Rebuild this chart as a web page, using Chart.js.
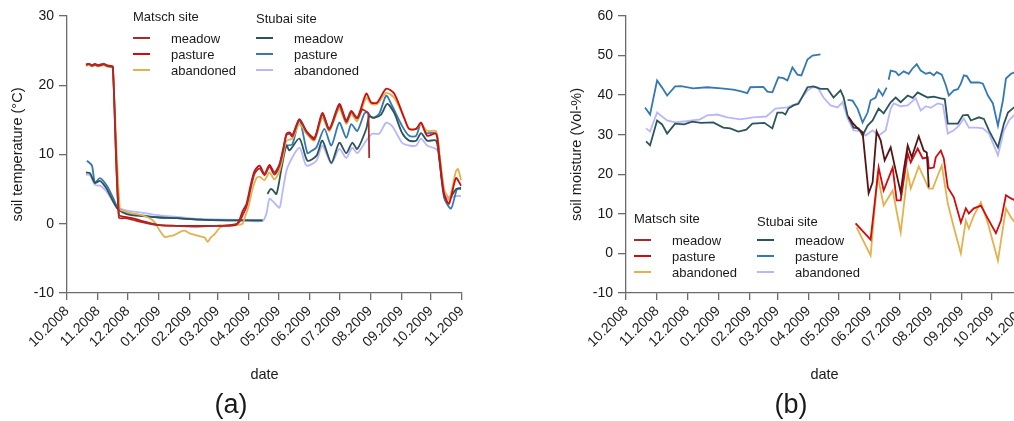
<!DOCTYPE html>
<html>
<head>
<meta charset="utf-8">
<script src="https://cdn.jsdelivr.net/npm/chart.js@4/dist/chart.umd.min.js"></script>
<style>
  html, body { margin: 0; padding: 0; background: #fff; width: 1014px; height: 421px; overflow: hidden; }
  canvas { position: absolute; top: 0; }
  #tempChart { left: 0; }
  #moistChart { left: 560px; }
</style>
</head>
<body>
<canvas id="tempChart" width="486" height="421"></canvas>
<canvas id="moistChart" width="482" height="421"></canvas>
<script>
// ---- axis labels -------------------------------------------------------
const monthLabels = ['10.2008', '11.2008', '12.2008', '01.2009', '02.2009', '03.2009', '04.2009',
                     '05.2009', '06.2009', '07.2009', '08.2009', '09.2009', '10.2009', '11.2009'];
const tempTicks = [-10, 0, 10, 20, 30];
const moistTicks = [-10, 0, 10, 20, 30, 40, 50, 60];

// days are counted from 1 October 2008
const startDate = Date.UTC(2008, 9, 1);
const monthDays = monthLabels.map(l => {
  const [m, y] = l.split('.');
  return (Date.UTC(+y, +m - 1, 1) - startDate) / 86400000;
});

// ---- soil temperature (°C) ---------------------------------------------
const tMatschMeadowDays = [19,22,25,28,31,34,37,40,44,46,52,58,65,73,83,93,110,130,150,163,170,173,176,180,184,188,193,198,203,208,213,217,220,223,226,233,240,248,256,263,273,280,285,291,296,300,302,303];
const tMatschMeadow = [22.9,23.1,22.8,23.0,22.8,22.9,23.0,22.8,22.7,22.6,0.9,0.8,0.6,0.3,0.0,-0.2,-0.3,-0.4,-0.3,-0.2,0.0,0.3,1.2,2.5,5.0,7.2,8.0,7.0,8.2,7.1,8.4,10.8,12.8,13.0,12.6,15.0,13.3,12.2,15.8,13.6,17.0,14.7,16.1,15.2,16.5,16.2,16.0,9.5];

const tMatschPastureDays = [19,22,25,28,31,34,37,40,44,46,52,58,65,73,83,93,110,130,150,163,170,173,176,180,184,188,193,198,203,208,213,217,220,223,226,233,240,248,256,263,273,280,285,291,300,305,311,320,328,338,343,350,355,361,370,373,378,383,390,395];
const tMatschPasture = [23.0,23.1,22.9,23.1,22.9,23.0,23.1,22.9,22.8,22.7,1.3,1.0,0.8,0.5,0.1,-0.2,-0.3,-0.3,-0.3,-0.3,-0.1,0.6,1.8,2.9,5.5,7.6,8.4,7.2,8.5,7.4,8.6,11.0,13.0,13.2,12.8,15.1,13.4,12.4,16.0,13.7,17.3,14.9,16.3,15.3,18.8,17.5,17.5,19.5,18.8,15.3,13.7,13.7,14.6,12.7,13.0,10.1,4.3,2.9,6.6,5.5];

const tMatschAbandonedDays = [19,22,25,28,31,34,37,40,44,46,53,58,65,73,83,88,93,98,103,108,113,118,123,128,133,138,141,144,148,153,160,170,176,178,182,186,190,193,198,203,208,213,217,220,226,233,240,248,256,263,273,280,285,291,300,305,311,320,328,338,343,350,355,361,370,373,378,383,390,392,395];
const tMatschAbandoned = [22.8,22.9,22.7,22.9,22.7,22.8,22.9,22.7,22.6,22.4,2.1,1.8,1.5,1.3,0.8,0.2,-1.0,-1.9,-1.8,-1.6,-1.2,-1.0,-1.4,-1.6,-1.8,-2.0,-2.6,-2.0,-1.5,-0.6,-0.2,-0.2,0.0,0.8,2.5,5.0,6.6,6.8,6.3,7.4,6.4,7.6,10.0,12.0,12.3,14.4,13.0,12.0,15.3,13.4,16.6,14.4,15.8,14.8,18.2,17.3,17.3,18.9,18.2,15.3,13.7,13.7,14.4,13.4,13.4,10.6,5.0,3.5,7.6,7.9,6.3];

const tStubaiMeadowDays = [19,23,28,33,36,40,46,51,60,75,93,110,133,160,180,196,198,201,204,206,210,215,220,223,233,241,250,256,265,273,280,286,291,300,303,308,315,321,328,336,343,350,355,361,370,373,378,383,390,395];
const tStubaiMeadow = [7.4,7.3,5.9,6.2,5.8,5.0,3.3,2.1,1.4,1.1,0.9,0.8,0.6,0.5,0.5,0.5,null,4.3,5.0,4.9,4.3,8.0,11.3,10.6,12.3,9.1,9.8,12.0,8.8,11.7,10.2,11.7,10.8,13.7,15.5,15.3,15.8,17.3,16.0,13.1,12.0,12.0,13.1,12.0,12.0,9.5,4.3,3.6,5.0,5.2];

const tStubaiPastureDays = [20,25,28,33,40,46,51,60,75,93,110,133,160,180,196,205,220,226,233,241,245,250,258,265,273,280,285,291,298,301,306,313,320,326,336,343,350,355,360,370,373,378,385,391,395];
const tStubaiPasture = [9.1,8.4,5.9,6.6,5.5,3.8,2.3,1.6,1.2,0.9,0.8,0.6,0.5,0.5,0.5,null,11.3,11.5,15.0,10.2,10.5,11.0,13.7,11.3,14.6,12.4,14.4,13.4,15.9,16.1,15.3,15.9,18.5,17.0,14.1,12.7,12.7,14.6,13.1,13.1,10.1,3.8,2.2,5.0,5.0];

const tStubaiAbandonedDays = [19,23,28,33,36,40,46,51,55,60,75,93,110,133,160,180,196,200,203,208,213,216,221,233,240,250,256,265,273,280,286,291,300,306,313,320,326,336,343,350,355,361,370,373,378,383,390,395];
const tStubaiAbandoned = [7.1,7.0,5.6,5.5,5.2,4.6,3.2,2.3,2.1,1.9,1.6,1.2,1.0,0.7,0.6,0.5,0.4,1.5,3.6,3.0,2.3,4.5,8.1,11.0,8.4,9.1,11.3,8.7,10.8,9.5,11.0,10.2,12.0,13.0,13.0,14.6,14.1,11.7,11.3,11.3,12.3,11.3,10.8,10.1,5.0,3.8,4.0,4.0];

// ---- soil moisture (Vol-%) ---------------------------------------------
const mMatschMeadowDays = [222,226,231,236,242,246,250,254,258,264,269,274,277,281,285,292,297,300,301,302];
const mMatschMeadow = [34.5,33.0,31.6,30.6,15.2,18.0,30.8,28.6,23.5,26.8,21.0,15.4,21.0,27.3,24.3,29.6,26.0,25.5,21.5,16.7];

const mMatschPastureDays = [229,244,252,257,266,270,274,281,284,291,296,301,302,307,309,314,317,321,327,334,339,342,347,354,361,369,374,379,384,388,396];
const mMatschPasture = [7.6,3.5,21.7,15.9,21.7,13.4,13.4,25.3,23.0,26.5,24.0,24.3,21.5,21.7,24.3,26.0,24.0,16.7,14.2,7.8,11.4,10.1,11.4,12.1,8.8,5.1,8.3,14.7,13.9,13.4,13.0];

const mMatschAbandonedDays = [230,244,251,257,266,274,281,284,292,297,302,306,311,315,321,327,334,339,342,347,354,361,371,379,384,388,396];
const mMatschAbandoned = [6.6,-0.5,19.7,12.1,15.9,5.3,20.5,16.4,22.0,19.2,16.4,16.4,19.7,22.2,12.6,6.6,0.0,8.3,6.3,9.6,12.9,7.6,-1.8,11.4,9.1,7.8,7.0];

const mStubaiMeadowDays = [20,24,31,36,41,49,58,66,75,87,97,104,112,120,126,138,146,151,156,159,162,167,172,181,187,194,201,207,214,217,221,227,232,236,241,246,252,257,264,269,274,281,286,291,296,301,307,314,318,321,331,336,341,344,352,357,362,371,377,381,387,393];
const mStubaiMeadow = [28.3,27.3,33.6,32.6,30.3,32.8,32.6,33.3,33.0,33.1,31.8,31.6,30.8,31.3,32.8,33.0,31.6,35.6,35.6,35.1,36.6,37.4,37.8,42.0,42.2,41.6,41.6,39.4,41.2,39.5,34.9,31.8,31.6,29.8,32.3,33.6,36.6,35.4,38.2,39.4,38.2,39.9,39.3,40.7,40.0,39.4,39.6,39.2,39.0,32.8,32.8,34.9,35.0,33.6,34.4,34.0,31.1,26.8,32.8,35.6,36.9,37.5];

const mStubaiPastureDays = [19,24,31,36,41,49,55,67,81,95,107,114,121,124,137,141,146,152,157,161,166,171,175,181,186,194,200,221,226,231,236,241,244,249,252,256,260,261,262,264,269,272,277,282,286,290,294,299,303,307,310,315,319,322,327,331,334,337,340,344,352,356,361,366,371,376,379,384,387,392,396];
const mStubaiPasture = [36.9,35.1,43.7,41.9,39.9,42.2,42.3,41.7,42.0,41.7,41.4,41.0,40.5,42.0,42.1,40.9,40.7,44.5,44.3,43.7,47.0,45.2,45.0,49.0,50.0,50.3,null,38.8,38.6,36.6,33.1,35.6,38.7,39.4,41.4,39.9,41.9,null,43.9,46.2,45.9,45.0,46.0,45.4,46.8,47.8,46.2,45.4,45.7,45.0,45.8,45.2,42.5,39.9,41.2,41.5,42.9,45.0,44.8,43.2,43.2,42.9,39.9,37.9,32.3,38.7,44.2,45.4,45.7,46.2,46.0];

const mStubaiAbandonedDays = [20,24,31,41,49,60,74,81,91,101,114,127,140,149,161,171,181,186,191,197,204,211,216,221,227,233,239,246,252,259,264,267,274,281,289,294,299,304,311,316,321,327,332,337,342,350,356,362,371,377,382,387,393];
const mStubaiAbandoned = [31.6,30.8,35.6,33.6,33.1,33.4,33.9,34.9,35.1,34.4,33.9,34.4,34.6,36.6,36.9,37.9,41.2,42.0,42.0,39.4,37.4,36.9,38.2,34.1,31.1,31.0,29.8,31.1,29.8,31.1,36.6,37.9,37.2,37.4,39.2,36.1,37.2,36.8,37.9,37.6,30.3,31.1,32.3,34.1,31.8,31.8,31.6,30.3,24.8,31.1,33.6,34.9,35.8];

// ---- styling -----------------------------------------------------------
const FONT = '"Liberation Sans", Arial, Helvetica, sans-serif';
const AXIS = '#6b6b6b';
const colors = {
  matschMeadow: '#a92a2a',
  matschPasture: '#d00c0c',
  matschAbandoned: '#e5b14f',
  stubaiMeadow: '#2c5459',
  stubaiPasture: '#3579b3',
  stubaiAbandoned: '#b7b7ff'
};

Chart.defaults.font.family = FONT;
Chart.defaults.color = '#1a1a1a';

function series(days, values) {
  return days.map((d, i) => ({ x: d, y: values[i] }));
}

function makeDataset(label, site, days, values, color, swatch) {
  return {
    label, site, swatch: swatch || color,
    data: series(days, values),
    borderColor: color,
    borderWidth: 1.8,
    pointRadius: 0,
    spanGaps: false,
    fill: false
  };
}

// legend with two site columns, drawn inside the plot area
const siteLegend = {
  id: 'siteLegend',
  afterDatasetsDraw(chart, args, opts) {
    const { ctx, chartArea } = chart;
    const base = opts.anchor === 'bottom' ? chartArea.bottom : chartArea.top;
    ctx.save();
    ctx.font = '13px ' + FONT;
    ctx.textBaseline = 'middle';
    ctx.textAlign = 'left';
    opts.columns.forEach(col => {
      const x0 = chartArea.left + col.x;
      ctx.fillStyle = '#1a1a1a';
      ctx.fillText(col.title, x0, base + col.titleY);
      chart.data.datasets.filter(ds => ds.site === col.site).forEach((ds, i) => {
        const y = base + opts.rowY + i * opts.rowGap;
        ctx.strokeStyle = ds.swatch;
        ctx.lineWidth = 2;
        ctx.beginPath();
        ctx.moveTo(x0, y);
        ctx.lineTo(x0 + 17, y);
        ctx.stroke();
        ctx.fillStyle = '#1a1a1a';
        ctx.fillText(ds.label, x0 + 38, y + 1);
      });
    });
    ctx.restore();
  }
};

function xAxis() {
  return {
    type: 'linear',
    min: monthDays[0],
    max: monthDays[monthDays.length - 1],
    afterBuildTicks: s => { s.ticks = monthDays.map(v => ({ value: v })); },
    afterFit: s => { s.height = 98; },
    ticks: {
      autoSkip: false, minRotation: 45, maxRotation: 45, padding: 3,
      font: { size: 14 }, color: '#1a1a1a',
      callback: (v, i) => monthLabels[i]
    },
    grid: { drawOnChartArea: false, drawTicks: true, tickLength: 7, color: AXIS, lineWidth: 1.3 },
    border: { display: true, color: AXIS, width: 1.3 },
    title: { display: true, text: 'date', font: { size: 14.5 }, color: '#1a1a1a', padding: { top: 0, bottom: 7.3 } }
  };
}

function yAxis(tickValues, title) {
  return {
    type: 'linear',
    min: tickValues[0],
    max: tickValues[tickValues.length - 1],
    afterBuildTicks: s => { s.ticks = tickValues.map(v => ({ value: v })); },
    afterFit: s => { s.width = 67; },
    ticks: { font: { size: 14 }, color: '#1a1a1a', padding: 5 },
    grid: { drawOnChartArea: false, drawTicks: true, tickLength: 8, color: AXIS, lineWidth: 1.3 },
    border: { display: true, color: AXIS, width: 1.3 },
    title: { display: true, text: title, font: { size: 14.5 }, color: '#1a1a1a', padding: { top: 9.3, bottom: 0 } }
  };
}

function makeChart(canvasId, datasets, yTicks, yTitle, caption, padding, legendOpts, tension) {
  datasets.forEach(ds => { ds.tension = tension; });
  return new Chart(document.getElementById(canvasId), {
    type: 'line',
    data: { datasets },
    options: {
      responsive: false,
      animation: false,
      layout: { padding },
      scales: { x: xAxis(), y: yAxis(yTicks, yTitle) },
      plugins: {
        legend: { display: false },
        tooltip: { enabled: false },
        title: {
          display: true, text: caption, position: 'bottom',
          font: { size: 27, weight: 'normal', lineHeight: 1.0 }, color: '#1a1a1a',
          padding: { top: 1.5, bottom: 1.5 }
        },
        siteLegend: legendOpts
      }
    },
    plugins: [siteLegend]
  });
}

// (a) soil temperature
makeChart('tempChart', [
  makeDataset('meadow', 'Matsch', tMatschMeadowDays, tMatschMeadow, colors.matschMeadow),
  makeDataset('pasture', 'Matsch', tMatschPastureDays, tMatschPasture, colors.matschPasture),
  makeDataset('abandoned', 'Matsch', tMatschAbandonedDays, tMatschAbandoned, colors.matschAbandoned),
  makeDataset('meadow', 'Stubai', tStubaiMeadowDays, tStubaiMeadow, colors.stubaiMeadow),
  makeDataset('pasture', 'Stubai', tStubaiPastureDays, tStubaiPasture, colors.stubaiPasture),
  makeDataset('abandoned', 'Stubai', tStubaiAbandonedDays, tStubaiAbandoned, colors.stubaiAbandoned)
], tempTicks, 'soil temperature (°C)', '(a)',
  { left: 0, right: 24, top: 16, bottom: 0 },
  { anchor: 'top', rowY: 22, rowGap: 16,
    columns: [
      { site: 'Matsch', title: 'Matsch site', x: 66, titleY: 1 },
      { site: 'Stubai', title: 'Stubai site', x: 189, titleY: 3 }
    ] }, 0.25);

// (b) soil moisture
makeChart('moistChart', [
  makeDataset('meadow', 'Matsch', mMatschMeadowDays, mMatschMeadow, '#561414', colors.matschMeadow),
  makeDataset('pasture', 'Matsch', mMatschPastureDays, mMatschPasture, colors.matschPasture),
  makeDataset('abandoned', 'Matsch', mMatschAbandonedDays, mMatschAbandoned, colors.matschAbandoned),
  makeDataset('meadow', 'Stubai', mStubaiMeadowDays, mStubaiMeadow, colors.stubaiMeadow),
  makeDataset('pasture', 'Stubai', mStubaiPastureDays, mStubaiPasture, colors.stubaiPasture),
  makeDataset('abandoned', 'Stubai', mStubaiAbandonedDays, mStubaiAbandoned, colors.stubaiAbandoned)
], moistTicks, 'soil moisture (Vol-%)', '(b)',
  { left: -1, right: 19, top: 16, bottom: 0 },
  { anchor: 'bottom', rowY: -53, rowGap: 16,
    columns: [
      { site: 'Matsch', title: 'Matsch site', x: 8, titleY: -74 },
      { site: 'Stubai', title: 'Stubai site', x: 131, titleY: -71 }
    ] }, 0);
</script>
</body>
</html>
